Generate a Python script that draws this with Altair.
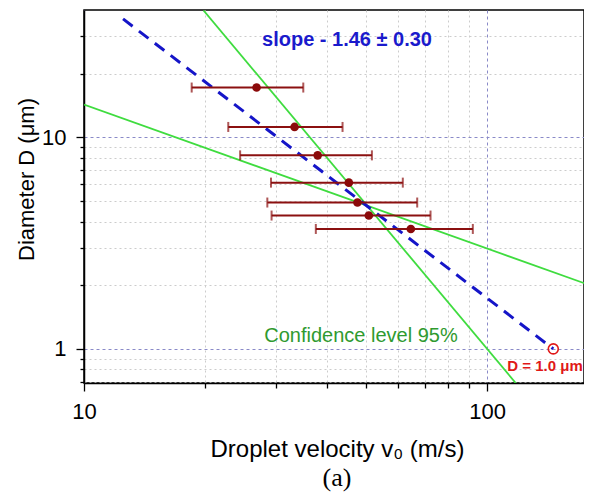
import altair as alt
import pandas as pd

# ---- data ----
velocity = [26.8, 33.3, 38.0, 45.4, 47.7, 50.9, 64.7]
diameter = [17.2, 11.2, 8.22, 6.11, 4.92, 4.27, 3.69]
velocity_low = [18.5, 22.8, 24.4, 29.1, 28.5, 29.2, 37.6]
velocity_high = [35.0, 43.8, 51.8, 61.8, 67.1, 72.4, 92.2]

fit_velocity = [12.5, 146.0]
fit_diameter = [36.3, 1.0]

conf_steep_velocity = [19.8, 117.8]
conf_steep_diameter = [39.8, 0.69]
conf_flat_velocity = [10.0, 180.0]
conf_flat_diameter = [14.3, 2.0]

target_velocity = [146.0]
target_diameter = [1.0]

x_domain = [10, 174]
y_domain = [0.69, 40]
x_tick_values = [10, 20, 30, 40, 50, 60, 70, 80, 90, 100]
x_tick_labels = [10, 100]
y_tick_values = [0.7, 0.8, 0.9, 1, 2, 3, 4, 5, 6, 7, 8, 9, 10, 20, 30]
y_tick_labels = [1, 10]

x_title = "Droplet velocity v\u2080 (m/s)"
y_title = "Diameter D (\u03bcm)"
slope_text = ["slope - 1.46 \u00b1 0.30"]
conf_text = ["Confidence level 95%"]
target_text = ["D = 1.0 \u03bcm"]
panel_text = ["(a)"]

# ---- tables ----
pts = pd.DataFrame({"v": velocity, "D": diameter, "lo": velocity_low, "hi": velocity_high})
fit = pd.DataFrame({"v": fit_velocity, "D": fit_diameter})
conf = pd.concat([
    pd.DataFrame({"v": conf_steep_velocity, "D": conf_steep_diameter, "g": "steep"}),
    pd.DataFrame({"v": conf_flat_velocity, "D": conf_flat_diameter, "g": "flat"}),
])
target = pd.DataFrame({"v": target_velocity, "D": target_diameter})

FONT = "Liberation Sans"
MAJOR_GRID = "#8a8ac8"
MINOR_GRID = "#cccccc"

def major_test(vals):
    return "indexof([" + ",".join(str(v) for v in vals) + "], datum.value) >= 0"

xs = alt.Scale(type="log", domain=x_domain, nice=False, zero=False)
ys = alt.Scale(type="log", domain=y_domain, nice=False, zero=False)

common_axis = dict(
    domainColor="black", domainWidth=1.5, tickColor="black", tickWidth=1.3,
    labelFont=FONT, labelFontSize=22, labelColor="black",
    titleFont=FONT, titleFontWeight="normal", titleColor="black",
    grid=True, gridWidth=1,
)

x_axis = alt.Axis(
    values=x_tick_values,
    labelExpr="(" + major_test(x_tick_labels) + ") ? format(datum.value, 'd') : ''",
    tickSize={"condition": {"test": major_test(x_tick_labels), "value": 8}, "value": 5},
    gridColor={"condition": {"test": major_test(x_tick_labels), "value": MAJOR_GRID}, "value": MINOR_GRID},
    gridDash={"condition": {"test": major_test(x_tick_labels), "value": [3, 3]}, "value": [2, 3]},
    title=x_title, titleFontSize=24, titleX=253, titleY=73, titleBaseline="alphabetic",
    labelFlush=False, labelOverlap=False, labelPadding=10,
    **common_axis,
)
y_axis = alt.Axis(
    values=y_tick_values,
    labelExpr="(" + major_test(y_tick_labels) + ") ? format(datum.value, 'd') : ''",
    tickSize={"condition": {"test": major_test(y_tick_labels), "value": 8}, "value": 4},
    gridColor={"condition": {"test": major_test(y_tick_labels), "value": MAJOR_GRID}, "value": MINOR_GRID},
    gridDash={"condition": {"test": major_test(y_tick_labels), "value": [3, 3]}, "value": [2, 3]},
    title=y_title, titleFontSize=22, titleX=-51, titleY=169, titleAngle=270, titleAlign="center",
    titleBaseline="alphabetic",
    labelFlush=False, labelOverlap=False, labelPadding=10,
    **common_axis,
)

def X(field):
    return alt.X(field, scale=xs, axis=x_axis)

def Y(field):
    return alt.Y(field, scale=ys, axis=y_axis)

conf_lines = alt.Chart(conf).mark_line(color="#3fdc3f", strokeWidth=1.8, clip=True).encode(
    x=X("v:Q"), y=Y("D:Q"), detail="g:N"
)
fit_line = alt.Chart(fit).mark_line(color="#1515c8", strokeWidth=3, strokeDash=[12, 8], clip=True).encode(
    x=X("v:Q"), y=Y("D:Q")
)
err_rule = alt.Chart(pts).mark_rule(color="#8b1010", strokeWidth=2).encode(
    x=X("lo:Q"), x2="hi:Q", y=Y("D:Q")
)
cap_lo = alt.Chart(pts).mark_tick(color="#8b1010", orient="vertical", size=10, thickness=2).encode(
    x=X("lo:Q"), y=Y("D:Q")
)
cap_hi = alt.Chart(pts).mark_tick(color="#8b1010", orient="vertical", size=10, thickness=2).encode(
    x=X("hi:Q"), y=Y("D:Q")
)
dots = alt.Chart(pts).mark_circle(color="#8b0a0a", opacity=1, size=75).encode(
    x=X("v:Q"), y=Y("D:Q")
)
target_pt = alt.Chart(target).mark_point(color="#e01818", filled=False, size=100, strokeWidth=1.6, opacity=1).encode(
    x=X("v:Q"), y=Y("D:Q")
)

slope_lbl = alt.Chart(pd.DataFrame({"t": slope_text})).mark_text(
    font=FONT, fontSize=20, fontWeight="bold", color="#1a1acc", align="center", baseline="alphabetic"
).encode(x=alt.value(263), y=alt.value(36), text="t:N")
conf_lbl = alt.Chart(pd.DataFrame({"t": conf_text})).mark_text(
    font=FONT, fontSize=20, color="#2f9a2f", align="center", baseline="alphabetic"
).encode(x=alt.value(277), y=alt.value(332), text="t:N")
target_lbl = alt.Chart(pd.DataFrame({"t": target_text})).mark_text(
    font=FONT, fontSize=15, fontWeight="bold", color="#e01818", align="center", baseline="alphabetic"
).encode(x=alt.value(461), y=alt.value(361), text="t:N")
panel_lbl = alt.Chart(pd.DataFrame({"t": panel_text})).mark_text(
    font="Liberation Serif", fontSize=26, color="black", align="center", baseline="alphabetic"
).encode(x=alt.value(253), y=alt.value(476), text="t:N")

chart = alt.layer(
    conf_lines, fit_line, err_rule, cap_lo, cap_hi, dots, target_pt,
    slope_lbl, conf_lbl, target_lbl, panel_lbl,
).properties(
    width=500, height=373,
    autosize=alt.AutoSizeParams(type="none"),
    padding={"left": 76, "top": 2, "right": 0, "bottom": 110},
    background="white",
).configure_view(stroke="black", strokeWidth=1.5)

chart.save("out.html", embed_options={"renderer": "svg", "actions": False})
